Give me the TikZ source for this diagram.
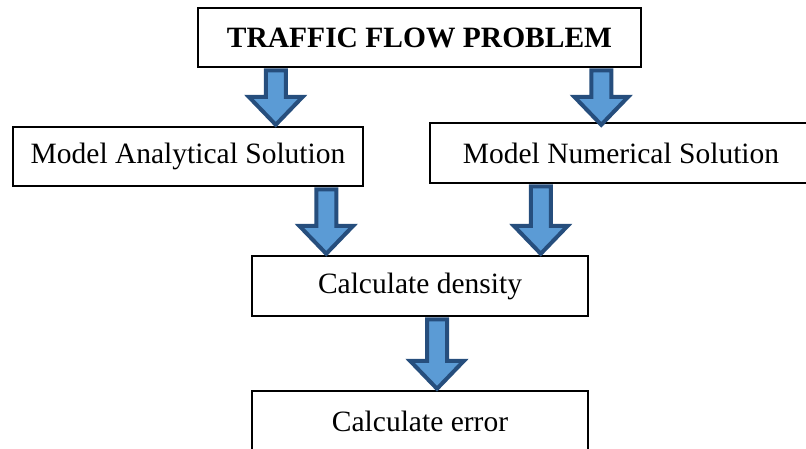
\documentclass[tikz,border=0pt]{standalone}
\usepackage{fontspec}
\setmainfont{Liberation Serif}
\usepackage{xcolor}
\usetikzlibrary{calc}

\definecolor{arrowfill}{RGB}{91,155,213}
\definecolor{arrowline}{RGB}{38,78,125}

% block arrow from #1 (top) down to #2 (tip)
\newcommand{\blockarrow}[2]{%
  \draw [bigarrow] let \p1=(#1), \p2=(#2) in
    (\x1-10pt,\y1-2pt) -- (\x1+10pt,\y1-2pt) -- (\x1+10pt,\y2+29pt)
    -- (\x1+27pt,\y2+29pt) -- (\x1,\y2+1pt) -- (\x1-27pt,\y2+29pt)
    -- (\x1-10pt,\y2+29pt) -- cycle;}

\begin{document}
\begin{tikzpicture}[x=1pt,y=-1pt,
    box/.style={draw, line width=2.5pt, inner sep=0pt, align=center,
                font=\fontsize{29.5}{35}\selectfont},
    bigarrow/.style={fill=arrowfill, draw=arrowline, line width=4pt}]
    \clip (0,0) rectangle (806,448);

    \node [box, minimum width=443, minimum height=59, font=\fontsize{29.5}{35}\selectfont\bfseries] (problem) at (419.5,37.5) {TRAFFIC FLOW PROBLEM};
    \node [box, minimum width=350, minimum height=59] (analytic) at (188,156.5) {Model Analytical Solution};
    \node [box, minimum width=382, minimum height=60] (numeric) at (621,153) {Model Numerical Solution};
    \node [box, minimum width=336, minimum height=60] (density) at (420,286) {Calculate density};
    \node [box, minimum width=336, minimum height=60] (error) at (420,421) {Calculate error};

    % arrow ends
    \path (problem.south west) ++(79,0) coordinate (a1);
    \path (problem.south east) ++(-41,0) coordinate (a2);
    \path (analytic.south east) ++(-38,0) coordinate (a3);
    \path (numeric.south west) ++(112,0) coordinate (a4);
    \path (density.south) ++(17,0) coordinate (a5);
    \coordinate (b1) at (a1 |- analytic.north);
    \coordinate (b2) at ($(a2 |- numeric.north)+(0,4)$);
    \coordinate (b3) at (a3 |- density.north);
    \coordinate (b4) at (a4 |- density.north);
    \coordinate (b5) at (a5 |- error.north);

    \blockarrow{a1}{b1}
    \blockarrow{a2}{b2}
    \blockarrow{a3}{b3}
    \blockarrow{a4}{b4}
    \blockarrow{a5}{b5}
\end{tikzpicture}
\end{document}
